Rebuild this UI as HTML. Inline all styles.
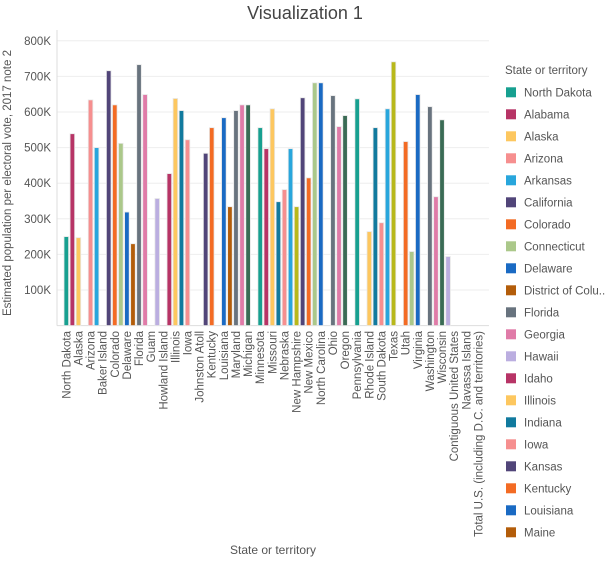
<!DOCTYPE html>
<html><head><meta charset="utf-8"><style>
body{margin:0;background:#fff;font-family:"Liberation Sans",sans-serif;}
svg text{font-family:"Liberation Sans",sans-serif;}
</style></head><body>
<svg id="chart" width="605" height="559">
<text x="305" y="19" font-size="18" fill="#444" text-anchor="middle">Visualization 1</text>
<g id="grid"></g><g id="bars"></g><g id="xlabels"></g><g id="ylabels"></g><g id="legend"></g>
<text x="273" y="554" font-size="12" fill="#555" text-anchor="middle">State or territory</text>
<text transform="translate(11,183) rotate(-90)" font-size="11.5" fill="#555" text-anchor="middle">Estimated population per electoral vote, 2017 note 2</text>
</svg>
<script>
const categories=["North Dakota","Alabama","Alaska","American Samoa","Arizona","Arkansas","Baker Island","California","Colorado","Connecticut","Delaware","District of Columbia","Florida","Georgia","Guam","Hawaii","Howland Island","Idaho","Illinois","Indiana","Iowa","Jarvis Island","Johnston Atoll","Kansas","Kentucky","Kingman Reef","Louisiana","Maine","Maryland","Massachusetts","Michigan","Midway Islands","Minnesota","Mississippi","Missouri","Montana","Nebraska","Nevada","New Hampshire","New Jersey","New Mexico","New York","North Carolina","Northern Mariana Islands","Ohio","Oklahoma","Oregon","Palmyra Atoll","Pennsylvania","Puerto Rico","Rhode Island","South Carolina","South Dakota","Tennessee","Texas","U.S. Virgin Islands","Utah","Vermont","Virginia","Wake Island","Washington","West Virginia","Wisconsin","Wyoming","Contiguous United States","Fifty states + D.C.","Navassa Island","Territories","Total U.S. (including D.C. and territories)"];
const values=[250,539,247,null,634,500,null,716,620,512,319,230,733,649,null,357,null,427,638,604,522,null,null,484,556,null,584,334,604,620,620,null,556,497,609,348,382,497,334,640,415,682,682,null,646,559,590,null,637,null,264,556,289,609,741,null,517,208,649,null,615,362,578,194,null,null,null,null,null];
const yTicks=[100,200,300,400,500,600,700,800];
const yTickLabels=["100K","200K","300K","400K","500K","600K","700K","800K"];
const colors=["#17a090","#b73466","#fdc75f","#f68f8f","#f68f8f","#28a6dc","#28a6dc","#514579","#f36b24","#abc88a","#1a6ac3","#b35d0a","#68737e","#e07ba8","#bbaee0","#bbaee0","#b73466","#b73466","#fdc75f","#117a9e","#f68f8f","#514579","#514579","#514579","#f36b24","#1a6ac3","#1a6ac3","#b35d0a","#68737e","#e07ba8","#3a6b55","#17a090","#17a090","#b73466","#fdc75f","#117a9e","#f68f8f","#28a6dc","#b8b81a","#514579","#f36b24","#abc88a","#1a6ac3","#68737e","#68737e","#e07ba8","#3a6b55","#17a090","#17a090","#fdc75f","#fdc75f","#117a9e","#f68f8f","#28a6dc","#b8b81a","#f36b24","#f36b24","#abc88a","#1a6ac3","#68737e","#68737e","#e07ba8","#3a6b55","#bbaee0","#bbaee0","#bbaee0","#bbaee0","#bbaee0","#bbaee0"];
const legendNames=["North Dakota","Alabama","Alaska","Arizona","Arkansas","California","Colorado","Connecticut","Delaware","District of Colu...","Florida","Georgia","Hawaii","Idaho","Illinois","Indiana","Iowa","Kansas","Kentucky","Louisiana","Maine"];
const legendColors=["#17a090","#b73466","#fdc75f","#f68f8f","#28a6dc","#514579","#f36b24","#abc88a","#1a6ac3","#b35d0a","#68737e","#e07ba8","#bbaee0","#b73466","#fdc75f","#117a9e","#f68f8f","#514579","#f36b24","#1a6ac3","#b35d0a"];
const NS="http://www.w3.org/2000/svg";
const X0=57,X1=489,Y0=325.6,PPK=0.356;
const xs=i=>66.3+i*6.06, ys=v=>Y0-v*PPK;
function mk(t,a,p){const e=document.createElementNS(NS,t);for(const k in a)e.setAttribute(k,a[k]);p.appendChild(e);return e;}
const grid=document.getElementById('grid'),yl=document.getElementById('ylabels');
yTicks.forEach((v,i)=>{
 const l=mk('line',{x1:X0,x2:X1,y1:ys(v),y2:ys(v),stroke:'#eee'},grid);
 
 
 const t=mk('text',{x:X0-6,y:ys(v)+4,'font-size':11.5,fill:'#555','text-anchor':'end'},yl);
 t.textContent=yTickLabels[i];
 
 
});
const ax=mk('line',{x1:X0,x2:X0,y1:30,y2:Y0,stroke:'#ddd'},grid);


const bx=mk('line',{x1:X0,x2:X1,y1:Y0,y2:Y0,stroke:'#ddd'},grid);


const bars=document.getElementById('bars'),xl=document.getElementById('xlabels');
categories.forEach((c,i)=>{
 const v=values[i];
 if(v!=null){
  const r=mk('rect',{x:xs(i)-2.3,y:ys(v),width:4.6,height:v*PPK,fill:colors[i],stroke:'#e8e8e8','stroke-width':0.8},bars);
  
  
 }
 if(i%2===0){
  const t=mk('text',{transform:`translate(${xs(i)+4},331) rotate(-90)`,'font-size':11.5,fill:'#555','text-anchor':'end'},xl);
  t.textContent=c;
  
  
 }
});
const lg=document.getElementById('legend');
const lt=mk('text',{x:505,y:74,'font-size':11.5,fill:'#555'},lg);
lt.textContent='State or territory';


legendNames.forEach((n,i)=>{
 const y=92.3+i*22;
 const g=mk('g',{},lg);
 
 
 mk('rect',{x:506,y:y-5,width:10,height:10,fill:legendColors[i]},g);
 const t=mk('text',{x:524,y:y+4,'font-size':11.5,fill:'#555'},g);
 t.textContent=n;
});
</script>
</body></html>
